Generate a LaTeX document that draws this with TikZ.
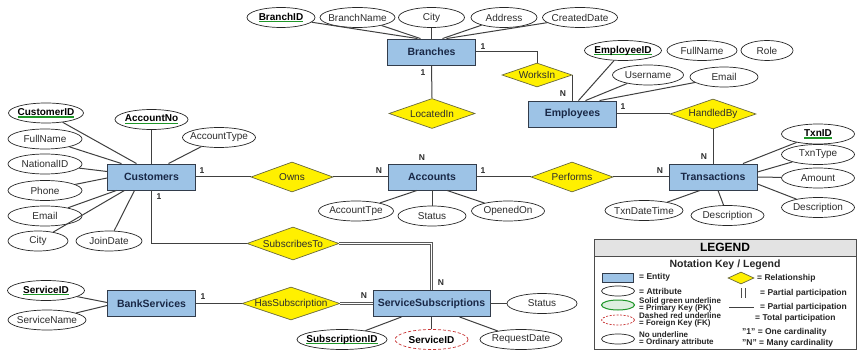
\documentclass[tikz,border=0pt]{standalone}
\usepackage{fontspec}
\setmainfont{Liberation Sans}
\usetikzlibrary{shapes.geometric}

\definecolor{entblue}{RGB}{157,195,230}
\definecolor{entline}{RGB}{50,60,75}
\definecolor{enttext}{RGB}{25,40,70}
\definecolor{relyellow}{RGB}{255,240,0}
\definecolor{relline}{RGB}{105,105,60}
\definecolor{pkgreen}{RGB}{30,150,40}
\definecolor{fkred}{RGB}{200,50,50}
\definecolor{inkgray}{RGB}{45,45,45}

% green underline for primary keys
\newcommand{\pkey}[1]{\setbox0\hbox{#1}\rlap{\textcolor{pkgreen}{\rule[-2.2pt]{\wd0}{1.1pt}}}\box0}

\begin{document}
\begin{tikzpicture}[x=1pt, y=-1pt,
		every node/.style={font=\fontsize{10}{12}\selectfont, text=inkgray},
		entity/.style={draw=entline, fill=entblue, line width=0.9pt, minimum width=88, minimum height=26, inner sep=1pt, text=enttext, font=\fontsize{10.5}{12}\selectfont\bfseries},
		rel/.style={diamond, aspect=3, draw=relline, fill=relyellow, line width=0.7pt, inner xsep=-12pt, inner ysep=-2pt, minimum width=86, minimum height=30},
		attr/.style={ellipse, draw=black!85, fill=white, line width=0.7pt, inner xsep=-10pt, inner ysep=0pt, minimum height=20},
		pk/.style={attr, text=black, font=\fontsize{10}{12}\selectfont\bfseries},
		fk/.style={attr, draw=fkred, dash pattern=on 3pt off 2pt, text=black, font=\fontsize{10}{12}\selectfont\bfseries},
		link/.style={draw=black!75, line width=1pt},
		total/.style={draw=black!65, line width=0.7pt, double=white, double distance=1.4pt},
		card/.style={inner sep=0pt, font=\fontsize{8.5}{10}\selectfont\bfseries},
		legtext/.style={anchor=west, inner sep=0pt, text=black!85, font=\fontsize{8.5}{10}\selectfont\bfseries},
		legsmall/.style={anchor=west, inner sep=0pt, align=left, text=black!85, font=\fontsize{8}{7.6}\selectfont\bfseries}
		]
		
		\fill[white] (0,0) rectangle (864,355);
		\useasboundingbox (0,0) rectangle (864,355);
		
		% Draw Entities
		\node[entity] (br) at (431.5,52) {Branches};
		\node[entity] (emp) at (572.5,114) {Employees};
		\node[entity] (cust) at (151.5,177) {Customers};
		\node[entity] (acc) at (432,177) {Accounts};
		\node[entity] (txn) at (713,177) {Transactions};
		\node[entity] (bs) at (151.5,303.5) {BankServices};
		\node[entity, minimum width=117] (ss) at (431.5,303.5) {ServiceSubscriptions};
		
		% Draw Relationships
		\node[rel, minimum width=70, minimum height=24] (works) at (537,75) {WorksIn};
		\node[rel] (locin) at (432,113.5) {LocatedIn};
		\node[rel] (handled) at (713,114) {HandledBy};
		\node[rel, minimum width=82] (owns) at (292,177) {Owns};
		\node[rel, minimum width=82] (perf) at (572,177) {Performs};
		\node[rel, minimum width=92, minimum height=33] (subs) at (293,243.5) {SubscribesTo};
		\node[rel, minimum width=98, minimum height=33] (hassub) at (291,303.5) {HasSubscription};
		
		% Branches attributes
		\node[pk, minimum width=68] (bid) at (281,17.5) {\pkey{BranchID}};
		\node[attr, minimum width=75] (bname) at (357.5,17.5) {BranchName};
		\node[attr, minimum width=66] (bcity) at (431.5,17.5) {City};
		\node[attr, minimum width=66] (baddr) at (504,17.5) {Address};
		\node[attr, minimum width=75] (bdate) at (580,17.5) {CreatedDate};
		
		% Employees attributes
		\node[pk, minimum width=77] (eid) at (623,50.5) {\pkey{EmployeeID}};
		\node[attr, minimum width=70] (efull) at (702,50.5) {FullName};
		\node[attr, minimum width=52] (erole) at (767,50.5) {Role};
		\node[attr, minimum width=71] (euser) at (648,75) {Username};
		\node[attr, minimum width=68] (email) at (724,77) {Email};
		
		% Customers attributes
		\node[pk, minimum width=75] (cid) at (46,113) {\pkey{CustomerID}};
		\node[pk, minimum width=73] (accno) at (151.5,119.5) {\pkey{AccountNo}};
		\node[attr, minimum width=73] (acctype) at (219,137.5) {AccountType};
		\node[attr, minimum width=74] (cfull) at (45,139) {FullName};
		\node[attr, minimum width=74] (natid) at (45,164) {NationalID};
		\node[attr, minimum width=74] (phone) at (45,190.5) {Phone};
		\node[attr, minimum width=74] (cemail) at (45,216) {Email};
		\node[attr, minimum width=60] (ccity) at (38,241) {City};
		\node[attr, minimum width=66] (cjoin) at (109,241) {JoinDate};
		
		% Accounts attributes
		\node[attr, minimum width=75] (atype) at (356,211) {AccountTpe};
		\node[attr, minimum width=68] (astatus) at (432,216) {Status};
		\node[attr, minimum width=73] (aopen) at (508,211) {OpenedOn};
		
		% Transactions attributes
		\node[pk, minimum width=73] (tid) at (818,134) {\pkey{TxnID}};
		\node[attr, minimum width=73] (ttype) at (818,154.5) {TxnType};
		\node[attr, minimum width=73] (tamt) at (818,178) {Amount};
		\node[attr, minimum width=73] (tdesc) at (818,207.5) {Description};
		\node[attr, minimum width=78] (tdate) at (644,210.5) {TxnDateTime};
		\node[attr, minimum width=73] (tdesc2) at (727.5,215.5) {Description};
		
		% Services attributes
		\node[pk, minimum width=77] (svid) at (46,290.5) {\pkey{ServiceID}};
		\node[attr, minimum width=78] (svname) at (47,320) {ServiceName};
		\node[attr, minimum width=70] (ssstat) at (542,303.5) {Status};
		\node[pk, minimum width=90] (subid) at (342,339.5) {\pkey{SubscriptionID}};
		\node[fk, minimum width=73] (subfk) at (431.5,339.5) {ServiceID};
		\node[attr, minimum width=82] (subreq) at (521,339.5) {RequestDate};
		
		% Attribute links
		\foreach \a/\s in {bid/-14pt, bname/-11pt, bcity/0pt, baddr/11pt, bdate/15pt} {
			\draw[link] (\a) -- ([xshift=\s]br.north);
		}
		\foreach \a/\s in {eid/6pt, euser/13pt, email/27pt} {
			\draw[link] (\a) -- ([xshift=\s]emp.north);
		}
		\foreach \a/\s in {cid/-15pt, cfull/-30pt, accno/0pt, acctype/17pt} {
			\draw[link] (\a) -- ([xshift=\s]cust.north);
		}
		\foreach \a/\s in {natid/5.5pt, phone/-1pt} {
			\draw[link] (\a) -- ([yshift=\s]cust.west);
		}
		\foreach \a/\s in {cemail/-35pt, ccity/-27pt, cjoin/-17pt} {
			\draw[link] (\a) -- ([xshift=\s]cust.south);
		}
		\foreach \a/\s in {atype/-15pt, astatus/0pt, aopen/15pt} {
			\draw[link] (\a) -- ([xshift=\s]acc.south);
		}
		\draw[link] (tid) -- ([xshift=30pt]txn.north);
		\foreach \a/\s in {ttype/5pt, tamt/0pt, tdesc/-7pt} {
			\draw[link] (\a) -- ([yshift=\s]txn.east);
		}
		\foreach \a/\s in {tdate/-13pt, tdesc2/5pt} {
			\draw[link] (\a) -- ([xshift=\s]txn.south);
		}
		\draw[link] (svid) -- ([yshift=1pt]bs.west);
		\draw[link] (svname) -- ([yshift=-2pt]bs.west);
		\draw[link] (ssstat) -- (ss.east);
		\foreach \a/\s in {subid/-30pt, subfk/0pt, subreq/28pt} {
			\draw[link] (\a) -- ([xshift=\s]ss.south);
		}
		
		% Relationship links
		\draw[link] (br.south) -- (locin.north);
		\draw[total] (locin.south) -- (acc.north);
		\draw[link] (br.east) -| (works.north);
		\draw[link] (works.east) -- (works.east |- emp.north);
		\draw[link] (emp.east) -- (handled.west);
		\draw[link] (handled.south) -- (txn.north);
		\draw[link] (cust.east) -- (owns.west);
		\draw[link] (owns.east) -- (acc.west);
		\draw[link] (acc.east) -- (perf.west);
		\draw[link] (perf.east) -- (txn.west);
		\draw[link] (cust.south) |- (subs.west);
		\draw[total] (subs.east) -| (ss.north);
		\draw[link] (bs.east) -- (hassub.west);
		\draw[total] (hassub.east) -- (ss.west);
		
		% Cardinalities
		\node[card] (c1) at (423,73) {1};
		\node[card] (c2) at (483,47) {1};
		\node[card] (c3) at (563,94) {N};
		\node[card] (c4) at (422,158) {N};
		\node[card] (c5) at (623,107) {1};
		\node[card] (c6) at (704,157) {N};
		\node[card] (c7) at (202,171) {1};
		\node[card] (c8) at (379,171) {N};
		\node[card] (c9) at (483,171) {1};
		\node[card] (c10) at (660,171) {N};
		\node[card] (c11) at (159,197) {1};
		\node[card] (c12) at (441,283) {N};
		\node[card] (c13) at (203,297) {1};
		\node[card] (c14) at (364,296) {N};
		
		% Legend
		\node[draw=black!70, fill=white, line width=0.8pt, minimum width=262, minimum height=110, inner sep=0pt] (lg) at (725,294) {};
		\node[draw=black!70, fill=gray!22, line width=0.8pt, minimum width=262, minimum height=17, inner sep=0pt, text=black, font=\fontsize{12}{14}\selectfont\bfseries] (lghead) at (725,247.5) {LEGEND};
		\node[text=black!85, inner sep=0pt, font=\fontsize{10.5}{12}\selectfont\bfseries] (lgsub) at (725,265) {Notation Key / Legend};
		
		\node[draw=entline, fill=entblue, line width=0.7pt, minimum width=31, minimum height=9, inner sep=0pt] (lgent) at (617.5,277.5) {};
		\node[legtext] at (639,277.5) {= Entity};
		\node[ellipse, draw=black!85, line width=0.7pt, minimum width=33, minimum height=10, inner sep=0pt] (lgattr) at (618,291) {};
		\node[legtext] at (639,291) {= Attribute};
		\node[ellipse, draw=pkgreen, fill=pkgreen!15, line width=1pt, minimum width=33, minimum height=10, inner sep=0pt] (lgpk) at (618,305) {};
		\node[legsmall] at (639,305) {Solid green underline\\= Primary Key (PK)};
		\node[ellipse, draw=fkred, dash pattern=on 2pt off 1.5pt, line width=0.7pt, minimum width=33, minimum height=10, inner sep=0pt] (lgfk) at (618,320) {};
		\node[legsmall] at (639,320) {Dashed red underline\\= Foreign Key (FK)};
		\node[ellipse, draw=black!85, line width=0.7pt, minimum width=33, minimum height=10, inner sep=0pt] (lgord) at (618,339) {};
		\node[legsmall] at (639,339) {No underline\\= Ordinary attribute};
		
		\node[diamond, aspect=2.2, draw=relline, fill=relyellow, line width=0.7pt, minimum width=26, minimum height=12, inner sep=0pt] (lgrel) at (741,278) {};
		\node[legtext] at (757,278) {= Relationship};
		\draw[black!70, line width=0.8pt] (741.5,288) -- (741.5,298) (745,288) -- (745,298);
		\node[legtext] at (760,293) {= Partial participation};
		\draw[link] (729,307) -- (754,307);
		\node[legtext] at (760,307) {= Partial participation};
		\draw[total] (727,318) -- (752,318);
		\node[legtext] at (755,318) {= Total participation};
		\node[legtext] at (742,332) {"1" = One cardinality};
		\node[legtext] at (742,343) {"N" = Many cardinality};
		
	\end{tikzpicture}
\end{document}
